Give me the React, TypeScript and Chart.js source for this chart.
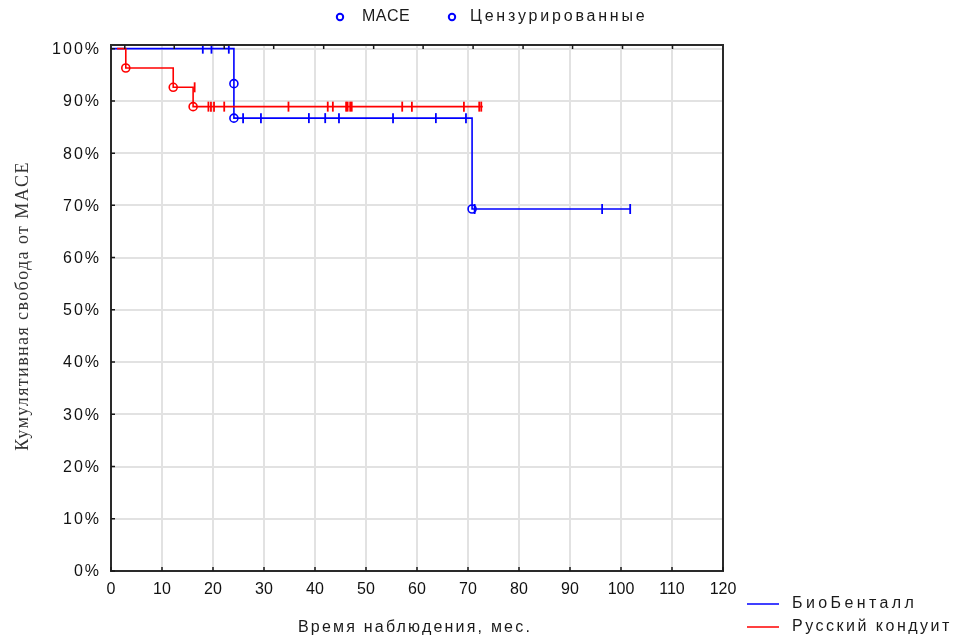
import React, { useEffect, useRef } from "react";
import { Chart, registerables } from "chart.js";

Chart.register(...registerables);

// ---- axis ticks ----
const xTicks = [0, 10, 20, 30, 40, 50, 60, 70, 80, 90, 100, 110, 120];
const yTicks = [0, 10, 20, 30, 40, 50, 60, 70, 80, 90, 100];
const topAxisTicks = [2.7, 12.4, 22.2, 31.9, 41.7, 51.5, 61.2, 71, 80.8, 90.5, 100.3, 110.1];

// ---- series names / texts ----
const seriesNames = ["БиоБенталл", "Русский кондуит"];
const markerLegend = ["MACE", "Цензурированные"];
const xTitle = "Время наблюдения, мес.";
const yTitle = "Кумулятивная свобода от MACE";

// ---- БиоБенталл (blue) ----
const bioStepTimes = [0, 24.1, 24.1, 70.8, 101.8];
const bioStepSurv = [100, 93.3, 86.7, 69.3, 69.3];
const bioEventTimes = [24.1, 24.1, 70.8];
const bioEventSurv = [93.3, 86.7, 69.3];
const bioCensorTimes = [18, 19.7, 23.1, 25.9, 29.4, 38.8, 42, 44.7, 55.3, 63.7, 69.6, 71.3, 96.3, 101.8];
const bioCensorSurv = [100, 100, 100, 86.7, 86.7, 86.7, 86.7, 86.7, 86.7, 86.7, 86.7, 69.3, 69.3, 69.3];

// ---- Русский кондуит (red) ----
const rusStepTimes = [1.2, 2.9, 12.2, 16.1, 72.9];
const rusStepSurv = [100, 96.3, 92.6, 88.9, 88.9];
const rusEventTimes = [2.9, 12.2, 16.1];
const rusEventSurv = [96.3, 92.6, 88.9];
const rusCensorTimes = [16.4, 19.1, 19.6, 20.2, 22.2, 34.8, 42.5, 43.5, 46.1, 46.4, 46.9, 47.2, 57.1, 59, 69.2, 72.2, 72.6];
const rusCensorSurv = [92.6, 88.9, 88.9, 88.9, 88.9, 88.9, 88.9, 88.9, 88.9, 88.9, 88.9, 88.9, 88.9, 88.9, 88.9, 88.9, 88.9];

const BLUE = "#0000ff";
const RED = "#ff0000";
const SANS = "'Liberation Sans', Arial, sans-serif";
const SERIF = "'Liberation Serif', 'Times New Roman', serif";

const pts = (xs: number[], ys: number[]) => xs.map((x, i) => ({ x, y: ys[i] }));

function drawText(
  ctx: CanvasRenderingContext2D,
  s: string,
  x: number,
  y: number,
  font: string,
  color: string,
  align: CanvasTextAlign,
  spacing: number
) {
  ctx.save();
  ctx.font = font;
  ctx.fillStyle = color;
  ctx.textAlign = align;
  ctx.textBaseline = "middle";
  (ctx as any).letterSpacing = spacing + "px";
  ctx.fillText(s, x, y);
  ctx.restore();
}

const decorPlugin = {
  id: "decor",
  afterDraw(chart: any) {
    const ctx: CanvasRenderingContext2D = chart.ctx;
    const { left, right, top, bottom } = chart.chartArea;
    const xs = chart.scales.x;
    const ys = chart.scales.y;
    ctx.save();
    // frame
    ctx.strokeStyle = "#2a2a2a";
    ctx.lineWidth = 2;
    ctx.strokeRect(left, top, right - left, bottom - top);
    // inward ticks
    ctx.lineWidth = 1.5;
    ctx.strokeStyle = "#1a1a1a";
    ctx.beginPath();
    for (const v of yTicks) {
      const y = ys.getPixelForValue(v);
      ctx.moveTo(left, y);
      ctx.lineTo(left + 4, y);
    }
    for (const v of xTicks) {
      const x = xs.getPixelForValue(v);
      ctx.moveTo(x, bottom);
      ctx.lineTo(x, bottom - 4);
    }
    for (const v of topAxisTicks) {
      const x = xs.getPixelForValue(v);
      ctx.moveTo(x, top);
      ctx.lineTo(x, top + 4);
    }
    ctx.stroke();

    // y tick labels (with Statistica-like spacing)
    for (const v of yTicks) {
      const y = ys.getPixelForValue(v);
      drawText(ctx, v + "%", left - 10, y + 1, `16px ${SANS}`, "#111", "right", 2);
    }

    // top legend (markers)
    ctx.strokeStyle = BLUE;
    ctx.lineWidth = 2;
    ctx.beginPath();
    ctx.arc(340, 17, 3.2, 0, Math.PI * 2);
    ctx.stroke();
    ctx.beginPath();
    ctx.arc(452, 17, 3.2, 0, Math.PI * 2);
    ctx.stroke();
    drawText(ctx, markerLegend[0], 362, 17, `16px ${SANS}`, "#1a1a1a", "left", 0.5);
    drawText(ctx, markerLegend[1], 470, 17, `16px ${SANS}`, "#1a1a1a", "left", 2.8);

    // bottom-right legend (lines)
    ctx.lineWidth = 1.5;
    ctx.strokeStyle = BLUE;
    ctx.beginPath();
    ctx.moveTo(747, 604);
    ctx.lineTo(779, 604);
    ctx.stroke();
    ctx.strokeStyle = RED;
    ctx.beginPath();
    ctx.moveTo(747, 627);
    ctx.lineTo(779, 627);
    ctx.stroke();
    drawText(ctx, seriesNames[0], 792, 604, `16px ${SANS}`, "#1a1a1a", "left", 3.4);
    drawText(ctx, seriesNames[1], 792, 627, `16px ${SANS}`, "#1a1a1a", "left", 2.5);

    // axis titles
    drawText(ctx, xTitle, (left + right) / 2 - 2, 628, `16px ${SANS}`, "#1a1a1a", "center", 2.2);
    ctx.save();
    ctx.translate(23, (top + bottom) / 2 - 2);
    ctx.rotate(-Math.PI / 2);
    drawText(ctx, yTitle, 0, 0, `18px ${SERIF}`, "#333", "center", 1.4);
    ctx.restore();

    ctx.restore();
  },
};

export default function App() {
  const ref = useRef<HTMLCanvasElement | null>(null);

  useEffect(() => {
    document.body.style.margin = "0";
    const canvas = ref.current;
    if (!canvas) return;

    const censorStyle = (color: string) => ({
      type: "scatter" as const,
      showLine: false,
      pointStyle: "line" as const,
      rotation: 90,
      pointRadius: 5,
      pointBorderWidth: 1.8,
      borderColor: color,
      backgroundColor: color,
    });
    const eventStyle = (color: string) => ({
      type: "scatter" as const,
      showLine: false,
      pointStyle: "circle" as const,
      pointRadius: 4,
      pointBorderWidth: 1.6,
      borderColor: color,
      backgroundColor: "rgba(255,255,255,0)",
    });
    const lineStyle = (color: string) => ({
      type: "line" as const,
      stepped: "before" as const,
      pointRadius: 0,
      borderWidth: 1.6,
      borderColor: color,
      backgroundColor: color,
      fill: false,
    });

    const chart = new Chart(canvas, {
      type: "line",
      data: {
        datasets: [
          { label: "rusEvents", data: pts(rusEventTimes, rusEventSurv), ...eventStyle(RED) },
          { label: "bioEvents", data: pts(bioEventTimes, bioEventSurv), ...eventStyle(BLUE) },
          { label: "rusCensor", data: pts(rusCensorTimes, rusCensorSurv), ...censorStyle(RED) },
          { label: "bioCensor", data: pts(bioCensorTimes, bioCensorSurv), ...censorStyle(BLUE) },
          { label: seriesNames[1], data: pts(rusStepTimes, rusStepSurv), ...lineStyle(RED) },
          { label: seriesNames[0], data: pts(bioStepTimes, bioStepSurv), ...lineStyle(BLUE) },
        ] as any,
      },
      options: {
        responsive: false,
        animation: false,
        events: [],
        layout: { padding: { top: 45, right: 232, left: 0, bottom: 0 } },
        plugins: {
          legend: { display: false },
          tooltip: { enabled: false },
        },
        scales: {
          x: {
            type: "linear",
            min: 0,
            max: 120,
            afterBuildTicks: (s: any) => {
              s.ticks = xTicks.map((v) => ({ value: v }));
            },
            afterFit: (s: any) => {
              s.height = 68;
            },
            grid: { color: "#e2e2e2", lineWidth: 2, drawTicks: false },
            border: { display: false },
            ticks: {
              padding: 9,
              autoSkip: false,
              maxRotation: 0,
              color: "#111",
              font: { family: SANS, size: 16 },
              callback: (v: any) => String(v),
            },
          },
          y: {
            type: "linear",
            min: 0,
            max: 100.7,
            afterBuildTicks: (s: any) => {
              s.ticks = yTicks.map((v) => ({ value: v }));
            },
            afterFit: (s: any) => {
              s.width = 111;
            },
            grid: { color: "#e2e2e2", lineWidth: 2, drawTicks: false },
            border: { display: false },
            ticks: { display: false },
          },
        },
      },
      plugins: [decorPlugin],
    });

    return () => chart.destroy();
  }, []);

  return (
    <div style={{ width: 955, height: 639 }}>
      <canvas ref={ref} width={955} height={639} style={{ display: "block" }} />
    </div>
  );
}
